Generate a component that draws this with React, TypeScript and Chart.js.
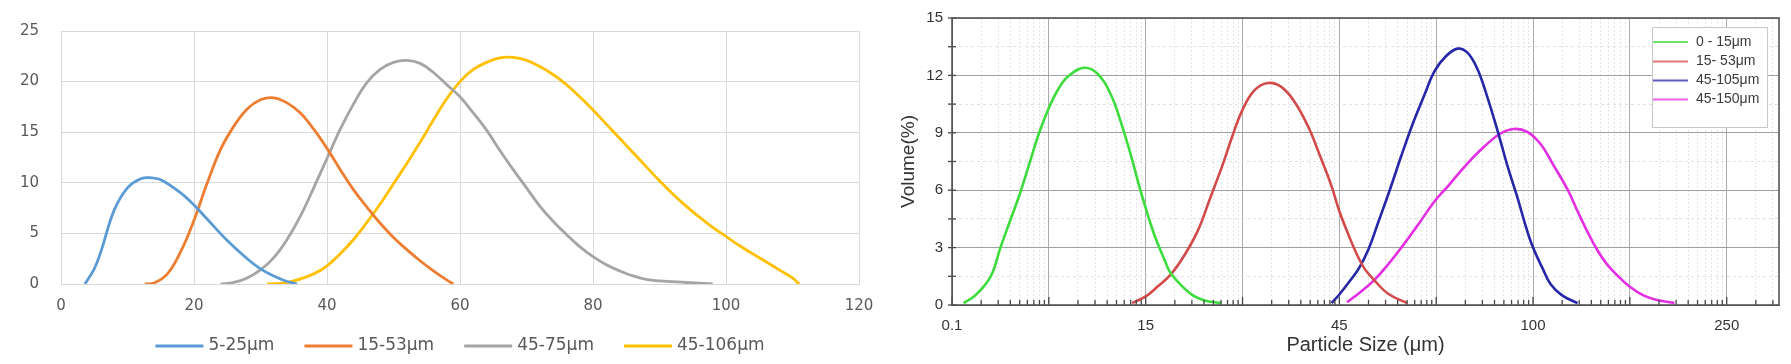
import { useEffect, useRef } from "react";
import { Chart, registerables } from "chart.js";
Chart.register(...registerables);

// ---------- Left panel data (x in µm, y in %) ----------
const leftLabels = ["5-25μm", "15-53μm", "45-75μm", "45-106μm"];
const leftColors = ["#5B9BD5", "#ED7D31", "#A5A5A5", "#FFC000"];
const leftXMax = 120;
const leftXStep = 20;
const leftYMax = 25;
const leftYStep = 5;

const blueX = [3.6, 5, 6, 8, 10, 12, 13.5, 15, 18, 20, 22, 25, 28, 30, 32, 34, 35.5];
const blueY = [0, 1.5, 3.2, 7.3, 9.5, 10.4, 10.5, 10.3, 9.0, 7.8, 6.4, 4.3, 2.5, 1.5, 0.8, 0.25, 0];

const orangeX = [12.6, 14, 16, 18, 20, 22, 24, 26, 28, 30, 32, 34, 36, 38, 40, 42, 44, 46, 48, 50, 52, 54, 56, 58, 59];
const orangeY = [0, 0.1, 1, 3.2, 6.3, 10, 13.3, 15.6, 17.3, 18.2, 18.4, 17.9, 16.9, 15.3, 13.4, 11.3, 9.3, 7.6, 6, 4.6, 3.4, 2.3, 1.3, 0.4, 0];

const grayX = [24, 26, 28, 30, 32, 34, 36, 38, 40, 42, 44, 46, 48, 50, 52, 54, 56, 58, 60, 62, 64, 66, 68, 70, 72, 74, 76, 78, 80, 82, 84, 86, 88, 90, 94, 98];
const grayY = [0, 0.15, 0.6, 1.4, 2.6, 4.4, 6.7, 9.5, 12.4, 15.3, 17.8, 19.9, 21.2, 21.9, 22.1, 21.8, 20.9, 19.7, 18.5, 16.9, 15.2, 13.2, 11.3, 9.5, 7.7, 6.2, 4.9, 3.7, 2.7, 1.9, 1.3, 0.8, 0.45, 0.3, 0.15, 0];

const yellowX = [31, 33, 35, 38, 40, 42, 44, 46, 48, 50, 52, 54, 56, 58, 60, 62, 64, 66, 68, 70, 72, 74, 76, 78, 80, 82, 84, 86, 88, 90, 92, 94, 96, 98, 100, 102, 104, 106, 108, 110, 111];
const yellowY = [0, 0.05, 0.3, 1, 1.8, 3, 4.4, 6.1, 7.9, 9.9, 11.9, 14, 16.2, 18.3, 20.0, 21.2, 21.9, 22.35, 22.4, 22.1, 21.5, 20.7, 19.7, 18.5, 17.2, 15.8, 14.4, 13.0, 11.6, 10.2, 8.9, 7.7, 6.6, 5.6, 4.7, 3.8, 3.0, 2.2, 1.4, 0.6, 0];

// ---------- Right panel data (x in axis units: 0 = "0.1", 1 = "15", 2 = "45", 3 = "100", 4 = "250") ----------
const rightTickLabels = ["0.1", "15", "45", "100", "250"];
const rightLabels = ["0 - 15μm", "15- 53μm", "45-105μm", "45-150μm"];
const rightColors = ["#3CDC3C", "#D24A4A", "#2626A8", "#E32EE3"];
const rightXMax = 4.27;
const rightYMax = 15;
const rightYMajor = 3;
const rightYMinor = 1.5;

const greenX = [0.06, 0.12, 0.2, 0.25, 0.3, 0.35, 0.4, 0.45, 0.5, 0.55, 0.6, 0.68, 0.75, 0.82, 0.88, 0.93, 0.97, 1.04, 1.1, 1.13, 1.23, 1.3, 1.39];
const greenY = [0.1, 0.5, 1.5, 3, 4.4, 5.8, 7.4, 9, 10.3, 11.3, 11.95, 12.4, 12.1, 11.0, 9.3, 7.6, 6.1, 3.8, 2.3, 1.65, 0.6, 0.25, 0.1];

const redX = [0.93, 1.0, 1.06, 1.13, 1.2, 1.27, 1.33, 1.4, 1.45, 1.5, 1.56, 1.63, 1.7, 1.77, 1.84, 1.9, 1.96, 2.0, 2.05, 2.09, 2.13, 2.18, 2.25, 2.35];
const redY = [0.1, 0.45, 0.95, 1.6, 2.6, 3.9, 5.5, 7.4, 8.9, 10.2, 11.2, 11.6, 11.4, 10.6, 9.3, 7.8, 6.2, 4.9, 3.6, 2.65, 1.9, 1.3, 0.6, 0.1];

const navyX = [1.96, 2.0, 2.05, 2.1, 2.15, 2.2, 2.26, 2.32, 2.38, 2.44, 2.49, 2.55, 2.61, 2.66, 2.71, 2.76, 2.82, 2.87, 2.92, 2.96, 3.0, 3.05, 3.09, 3.15, 3.23];
const navyY = [0.1, 0.55, 1.2, 1.9, 2.9, 4.3, 6, 7.8, 9.5, 11, 12.2, 13.0, 13.4, 13.2, 12.4, 11.0, 9.0, 7.2, 5.6, 4.2, 3.0, 1.9, 1.1, 0.5, 0.1];

const magentaX = [2.04, 2.1, 2.18, 2.25, 2.32, 2.4, 2.49, 2.56, 2.61, 2.68, 2.75, 2.83, 2.9, 2.97, 3.04, 3.1, 3.18, 3.23, 3.28, 3.33, 3.38, 3.44, 3.5, 3.57, 3.64, 3.73];
const magentaY = [0.15, 0.6, 1.3, 2.1, 3.0, 4.1, 5.4, 6.2, 6.8, 7.6, 8.3, 8.95, 9.2, 9.05, 8.4, 7.4, 6.0, 4.9, 3.85, 2.9, 2.15, 1.5, 0.95, 0.5, 0.26, 0.1];

const zip = (xs: number[], ys: number[]) => xs.map((x, i) => ({ x, y: ys[i] }));

const isMult = (v: number, step: number) => Math.abs(v / step - Math.round(v / step)) < 1e-6;

// ---------- Left chart ----------
function LeftChart() {
  const ref = useRef<HTMLCanvasElement>(null);
  useEffect(() => {
    const series = [zip(blueX, blueY), zip(orangeX, orangeY), zip(grayX, grayY), zip(yellowX, yellowY)];
    const legendPlugin = {
      id: "leftLegend",
      afterDraw(chart: any) {
        const ctx = chart.ctx;
        const ca = chart.chartArea;
        ctx.save();
        ctx.font = '17px "DejaVu Sans"';
        const lineLen = 48, gapLT = 5, gapItem = 30;
        const widths = leftLabels.map((t) => ctx.measureText(t).width);
        const total = widths.reduce((a, w) => a + lineLen + gapLT + w, 0) + gapItem * (leftLabels.length - 1);
        let x = (ca.left + ca.right) / 2 - total / 2;
        const y = 346;
        leftLabels.forEach((t, i) => {
          ctx.strokeStyle = leftColors[i];
          ctx.lineWidth = 3;
          ctx.beginPath();
          ctx.moveTo(x, y);
          ctx.lineTo(x + lineLen, y);
          ctx.stroke();
          ctx.fillStyle = "#595959";
          ctx.textBaseline = "middle";
          ctx.textAlign = "left";
          ctx.fillText(t, x + lineLen + gapLT, y);
          x += lineLen + gapLT + widths[i] + gapItem;
        });
        ctx.restore();
      },
    };
    const chart = new Chart(ref.current!, {
      type: "line",
      data: {
        datasets: series.map((d, i) => ({
          label: leftLabels[i],
          data: d,
          borderColor: leftColors[i],
          backgroundColor: leftColors[i],
          borderWidth: 2.8,
          pointRadius: 0,
          tension: 0.4,
          fill: false,
        })),
      },
      options: {
        animation: false,
        responsive: false,
        layout: { padding: { top: 28, right: 31, left: 0, bottom: 0 } },
        plugins: { legend: { display: false }, tooltip: { enabled: false } },
        scales: {
          x: {
            type: "linear",
            min: 0,
            max: leftXMax,
            afterFit: (s: any) => { s.height = 80; },
            ticks: { stepSize: leftXStep, color: "#595959", font: { family: "DejaVu Sans", size: 15 }, padding: 13, maxRotation: 0 },
            grid: { color: "#d9d9d9", lineWidth: 1, drawTicks: false },
            border: { color: "#d9d9d9" },
          },
          y: {
            min: 0,
            max: leftYMax,
            afterFit: (s: any) => { s.width = 61; },
            ticks: { stepSize: leftYStep, color: "#595959", font: { family: "DejaVu Sans", size: 15 }, padding: 22 },
            grid: { color: "#d9d9d9", lineWidth: 1, drawTicks: false },
            border: { color: "#d9d9d9" },
          },
        },
      },
      plugins: [legendPlugin],
    });
    return () => chart.destroy();
  }, []);
  return <canvas ref={ref} width={890} height={364} style={{ position: "absolute", left: 0, top: 0 }} />;
}

// ---------- Right chart ----------
function RightChart() {
  const ref = useRef<HTMLCanvasElement>(null);
  useEffect(() => {
    const series = [zip(greenX, greenY), zip(redX, redY), zip(navyX, navyY), zip(magentaX, magentaY)];
    const framePlugin = {
      id: "frame",
      afterDatasetsDraw(chart: any) {
        const { ctx, chartArea: ca, scales } = chart;
        ctx.save();
        // inner ticks on bottom axis
        ctx.strokeStyle = "#444";
        ctx.lineWidth = 1.3;
        scales.x.ticks.forEach((t: any) => {
          const px = scales.x.getPixelForValue(t.value);
          const len = isMult(t.value, 0.5) ? 8 : 5;
          ctx.beginPath();
          ctx.moveTo(px, ca.bottom);
          ctx.lineTo(px, ca.bottom - len);
          ctx.stroke();
        });
        scales.y.ticks.forEach((t: any) => {
          const py = scales.y.getPixelForValue(t.value);
          ctx.beginPath();
          ctx.moveTo(ca.left - 4, py);
          ctx.lineTo(ca.left + 4, py);
          ctx.stroke();
        });
        // frame
        ctx.strokeStyle = "#555";
        ctx.lineWidth = 1.6;
        ctx.strokeRect(ca.left, ca.top, ca.right - ca.left, ca.bottom - ca.top);
        // legend box
        const bx = 762, by = 27, bw = 115, bh = 100;
        ctx.fillStyle = "#ffffff";
        ctx.fillRect(bx, by, bw, bh);
        ctx.strokeStyle = "#c8c8c8";
        ctx.lineWidth = 1;
        ctx.strokeRect(bx + 0.5, by + 0.5, bw, bh);
        ctx.font = '14px "Liberation Sans"';
        ctx.textBaseline = "middle";
        ctx.textAlign = "left";
        const rows = [42, 61.5, 80.5, 99.5];
        rightLabels.forEach((t, i) => {
          ctx.strokeStyle = rightColors[i];
          ctx.globalAlpha = 0.75;
          ctx.lineWidth = 2;
          ctx.beginPath();
          ctx.moveTo(bx + 1, rows[i]);
          ctx.lineTo(bx + 36, rows[i]);
          ctx.stroke();
          ctx.globalAlpha = 1;
          ctx.fillStyle = "#3a3a3a";
          ctx.fillText(t, bx + 44, rows[i]);
        });
        ctx.restore();
      },
    };
    const chart = new Chart(ref.current!, {
      type: "line",
      data: {
        datasets: series.map((d, i) => ({
          label: rightLabels[i],
          data: d,
          borderColor: rightColors[i],
          backgroundColor: rightColors[i],
          borderWidth: 2.6,
          pointRadius: 0,
          tension: 0.4,
          fill: false,
        })),
      },
      options: {
        animation: false,
        responsive: false,
        layout: { padding: { top: 12, right: 12, left: 0, bottom: 0 } },
        plugins: { legend: { display: false }, tooltip: { enabled: false } },
        scales: {
          x: {
            type: "linear",
            min: 0,
            max: rightXMax,
            afterFit: (s: any) => { s.height = 59; },
            afterBuildTicks: (s: any) => {
              const t: any[] = [];
              for (let k = 0; k * 0.5 <= rightXMax; k++) {
                const base = k * 0.5;
                t.push({ value: base });
                for (let m = 2; m <= 9; m++) {
                  const v = base + 0.5 * Math.log10(m);
                  if (v < rightXMax) t.push({ value: v });
                }
              }
              s.ticks = t;
            },
            ticks: {
              autoSkip: false,
              maxRotation: 0,
              color: "#333",
              font: { family: "Liberation Sans", size: 15 },
              padding: 12,
              callback: (v: any) => (isMult(v, 1) && rightTickLabels[Math.round(v)] !== undefined ? rightTickLabels[Math.round(v)] : ""),
            },
            grid: {
              drawTicks: false,
              color: (c: any) => (c.tick && isMult(c.tick.value, 0.5) ? "#ababab" : "#e4e4e4"),
              lineWidth: 1,
            },
            border: {
              color: "#555",
              dash: (c: any) => (c.tick && !isMult(c.tick.value, 0.5) ? [2, 2] : []),
            },
            title: {
              display: true,
              text: "Particle Size (μm)",
              color: "#333",
              font: { family: "Liberation Sans", size: 20 },
              padding: { top: 0, bottom: 7 },
            },
          },
          y: {
            min: 0,
            max: rightYMax,
            afterFit: (s: any) => { s.width = 62; },
            afterBuildTicks: (s: any) => {
              const t: any[] = [];
              for (let v = 0; v <= rightYMax + 1e-9; v += rightYMinor) t.push({ value: v });
              s.ticks = t;
            },
            ticks: {
              autoSkip: false,
              color: "#333",
              font: { family: "Liberation Sans", size: 15 },
              padding: 9,
              callback: (v: any) => (isMult(v, rightYMajor) ? String(Math.round(v)) : ""),
            },
            grid: {
              drawTicks: false,
              color: (c: any) => (c.tick && isMult(c.tick.value, rightYMajor) ? "#a0a0a0" : "#e0e0e0"),
              lineWidth: 1,
            },
            border: {
              color: "#555",
              dash: (c: any) => (c.tick && !isMult(c.tick.value, rightYMajor) ? [3, 3] : []),
            },
            title: {
              display: true,
              text: "Volume(%)",
              color: "#333",
              font: { family: "Liberation Sans", size: 19 },
              padding: { top: 7, bottom: 0 },
            },
          },
        },
      },
      plugins: [framePlugin],
    });
    return () => chart.destroy();
  }, []);
  return <canvas ref={ref} width={901} height={364} style={{ position: "absolute", left: 890, top: 0 }} />;
}

export default function App() {
  return (
    <div style={{ position: "fixed", left: 0, top: 0, width: 1791, height: 364, background: "#fff", overflow: "hidden" }}>
      <LeftChart />
      <RightChart />
    </div>
  );
}
